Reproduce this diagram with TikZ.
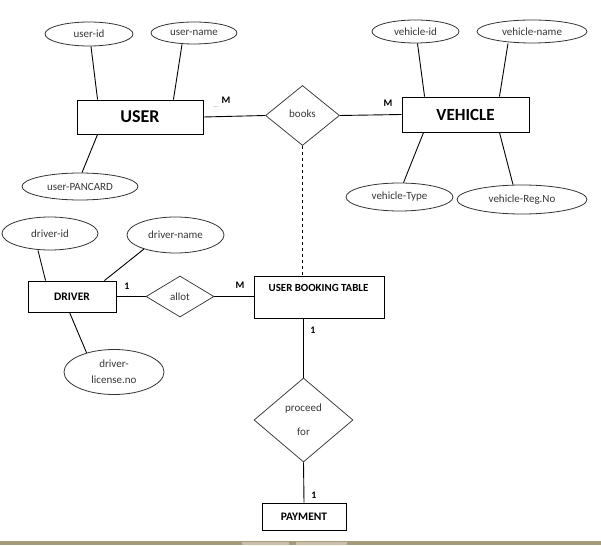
\documentclass[tikz,border=0pt]{standalone}
\usepackage{fontspec}
\setmainfont{Carlito}
\usetikzlibrary{shapes.geometric}
\definecolor{barTan}{RGB}{165,154,122}
\definecolor{barLight}{RGB}{200,192,170}
\definecolor{txtGray}{RGB}{55,55,55}
\begin{document}
\begin{tikzpicture}[x=1pt,y=-1pt,
  ent/.style={draw=black, line width=0.9pt, rectangle, inner sep=0pt, font=\bfseries\fontsize{11.5}{13}\selectfont},
  attr/.style={draw=black!80, line width=0.8pt, ellipse, inner sep=0pt, text=txtGray, font=\fontsize{11}{13}\selectfont},
  rel/.style={draw=black!75, line width=0.8pt, diamond, inner sep=0pt, text=txtGray, font=\fontsize{11}{13}\selectfont},
  conn/.style={line width=0.9pt},
  card/.style={font=\bfseries\fontsize{10}{12}\selectfont, inner sep=0pt}]
\useasboundingbox (0,0) rectangle (601,545);

% bottom strip
\fill[barTan] (0,541) rectangle (601,545);
\fill[barLight] (242,542) rectangle (289,545);
\fill[barLight] (296,542) rectangle (347,545);

% entities
\node[ent, minimum width=126pt, minimum height=34pt, font=\bfseries\fontsize{18}{20}\selectfont] (user) at (140,117) {USER};
\node[ent, minimum width=127pt, minimum height=35pt, font=\bfseries\fontsize{17}{20}\selectfont] (vehicle) at (465.5,114.5) {VEHICLE};
\node[ent, minimum width=88pt, minimum height=31pt] (driver) at (72,296.5) {DRIVER};
\node[ent, minimum width=130pt, minimum height=42pt] (ubt) at (319,297) {};
\node[font=\bfseries\fontsize{10.9}{12}\selectfont, inner sep=0pt] (ubtlabel) at (318.5,287.5) {USER BOOKING TABLE};
\node[ent, minimum width=84pt, minimum height=27pt] (pay) at (304,516.5) {PAYMENT};

% relationships
\node[rel, minimum width=74pt, minimum height=60pt] (books) at (302.5,115.5) {\raisebox{3pt}{books}};
\node[rel, minimum width=68pt, minimum height=41pt] (allot) at (180,296.5) {allot};
\node[rel, minimum width=99pt, minimum height=84pt, align=center] (proceed) at (303.5,420) {proceed\\[11pt]for};

% attributes
\node[attr, minimum width=88pt, minimum height=24pt] (uid) at (89,34) {user-id};
\node[attr, minimum width=86pt, minimum height=22pt] (uname) at (194,33) {user-name};
\node[attr, minimum width=116pt, minimum height=27pt] (pan) at (80,186.5) {user-PANCARD};
\node[attr, minimum width=87pt, minimum height=23pt] (vid) at (415.5,31.5) {vehicle-id};
\node[attr, minimum width=110pt, minimum height=23pt] (vname) at (532,31.5) {vehicle-name};
\node[attr, minimum width=107pt, minimum height=28pt] (vtype) at (399.5,197) {vehicle-Type};
\node[attr, minimum width=130pt, minimum height=29pt] (vreg) at (522,199.5) {vehicle-Reg.No};
\node[attr, minimum width=96pt, minimum height=33pt] (did) at (50,233.5) {driver-id};
\node[attr, minimum width=97pt, minimum height=36pt] (dname) at (175.5,235) {driver-name};
\node[attr, minimum width=100pt, minimum height=45pt, align=center] (lic) at (114,372) {driver-\\[3pt]license.no};

% cardinalities
\node[card] (mU) at (226,100) {M};
\node[font=\fontsize{7}{7}\selectfont, text=black!45, inner sep=0pt] (dots) at (216,107) {...};
\node[card] (mV) at (388,103) {M};
\node[card] (oneD) at (127,286) {1};
\node[card] (mB) at (240,285) {M};
\node[card] (oneT) at (313,330) {1};
\node[card] (oneP) at (314,495) {1};

% connectors: user
\draw[conn] ([xshift=2pt]uid.south) -- ([xshift=21pt]user.north west);
\draw[conn] ([xshift=-12pt]uname.south) -- ([xshift=-30pt]user.north east);
\draw[conn] ([xshift=21pt]user.south west) -- ([xshift=2pt]pan.north);
\draw[conn] (user.east) -- (books.west);
\draw[conn] (books.east) -- (vehicle.west);
% vehicle
\draw[conn] ([xshift=2pt]vid.south) -- ([xshift=23pt]vehicle.north west);
\draw[conn] ([xshift=-24pt]vname.south) -- ([xshift=-30pt]vehicle.north east);
\draw[conn] ([xshift=22pt]vehicle.south west) -- ([xshift=4pt]vtype.north);
\draw[conn] ([xshift=-30pt]vehicle.south east) -- ([xshift=-9pt]vreg.north);
% books to booking table
\draw[conn, dashed, line width=0.7pt] (books.south) -- (books.south |- ubt.north);
% driver
\draw[conn] ([xshift=-12pt]did.south) -- ([xshift=18pt]driver.north west);
\draw[conn] (dname.204) -- ([xshift=-12pt]driver.north east);
\draw[conn] ([xshift=42pt]driver.south west) -- (lic.145);
\draw[conn] (driver.east) -- (allot.west);
\draw[conn] (allot.east) -- (allot.east -| ubt.west);
% booking table to payment
\draw[conn] (proceed.north |- ubt.south) -- (proceed.north);
\draw[conn] (proceed.south) -- (pay.north);
\end{tikzpicture}
\end{document}
